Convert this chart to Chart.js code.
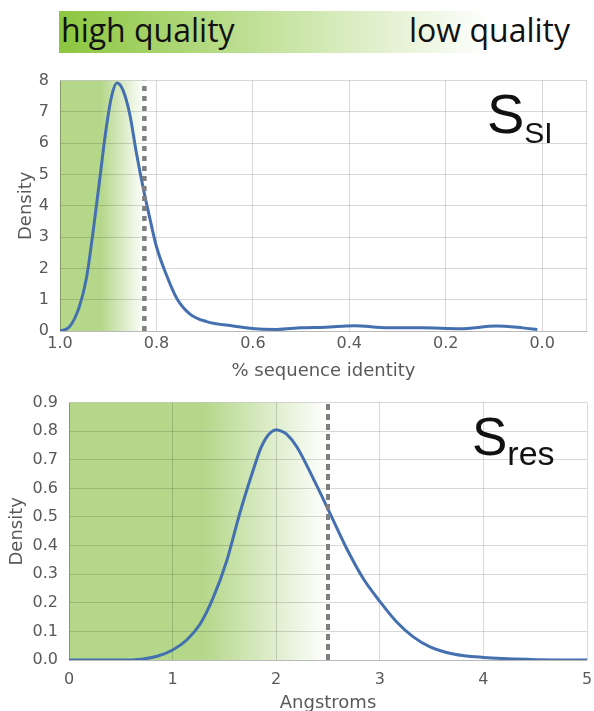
<!DOCTYPE html>
<html>
<head>
<meta charset="utf-8">
<script src="https://cdn.jsdelivr.net/npm/chart.js"></script>
<style>
  body { margin: 0; background: #fff; width: 594px; height: 711px; position: relative; overflow: hidden; }
  #banner { position: absolute; left: 59px; top: 11px; width: 431px; height: 42px;
            background: linear-gradient(to right, #8cc63f, #ffffff); }
  .q { position: absolute; top: 14px; font: 32px/32px "Open Sans"; color: #111; white-space: nowrap; }
  canvas { position: absolute; left: 0; }
</style>
</head>
<body>
<div id="banner"></div>
<span class="q" style="left:61px">high quality</span>
<span class="q" style="right:24px">low quality</span>
<canvas id="ssi" width="594" height="322" style="top:60px"></canvas>
<canvas id="res" width="594" height="329" style="top:382px"></canvas>
<script>
// S_SI density over % sequence identity
var ssiX = [1.0, 0.98, 0.96, 0.945, 0.932, 0.918, 0.904, 0.893, 0.882, 0.869, 0.855, 0.842, 0.826, 0.814, 0.8,
            0.779, 0.758, 0.731, 0.696, 0.641, 0.586, 0.55, 0.5, 0.45, 0.39, 0.32, 0.25, 0.17, 0.095, 0.04, 0.01];
var ssiY = [0, 0.14, 0.77, 1.7, 3.1, 4.8, 6.5, 7.5, 7.92, 7.68, 6.9, 5.73, 4.46, 3.62, 2.7,
            1.78, 1.05, 0.55, 0.3, 0.16, 0.06, 0.05, 0.1, 0.12, 0.17, 0.1, 0.1, 0.07, 0.16, 0.1, 0.05];
var ssiXTicks = [1.0, 0.8, 0.6, 0.4, 0.2, 0.0];
var ssiYTicks = [0, 1, 2, 3, 4, 5, 6, 7, 8];
var ssiCut = 0.825;
var ssiShade = [0.915, 0.825];

// S_res density over resolution in Angstroms
var resX = [0, 0.3, 0.5, 0.7, 0.85, 1.0, 1.136, 1.264, 1.393, 1.522, 1.65, 1.779, 1.85, 1.9, 1.95, 2.0, 2.05, 2.1,
            2.2, 2.358, 2.519, 2.68, 2.84, 3.0, 3.163, 3.323, 3.485, 3.71, 4.0, 4.45, 5.0];
var resY = [0, 0, 0, 0.003, 0.013, 0.035, 0.07, 0.125, 0.219, 0.346, 0.515, 0.665, 0.74, 0.775, 0.797, 0.805, 0.8, 0.79,
            0.745, 0.634, 0.513, 0.39, 0.285, 0.205, 0.133, 0.081, 0.046, 0.021, 0.009, 0.002, 0];
var resXTicks = [0, 1, 2, 3, 4, 5];
var resYTicks = [0, 0.1, 0.2, 0.3, 0.4, 0.5, 0.6, 0.7, 0.8, 0.9];
var resCut = 2.5;
var resShade = [1.3, 2.5];

var gridColor = 'rgba(0,0,0,0.15)';
var textColor = '#595959';
var lineColor = '#4470b0';

function pts(xs, ys) {
  return xs.map(function(x, i) { return {x: x, y: ys[i]}; });
}

// green quality band behind the grid
var shade = {
  id: 'shade',
  beforeDraw: function(chart, args, o) {
    var a = chart.chartArea, ctx = chart.ctx, sx = chart.scales.x;
    var x0 = sx.getPixelForValue(o.from), x1 = sx.getPixelForValue(o.to);
    var g = ctx.createLinearGradient(x0, 0, x1, 0);
    g.addColorStop(0, '#b5d78a');
    g.addColorStop(1, 'rgba(181,215,138,0)');
    ctx.save();
    ctx.fillStyle = g;
    ctx.fillRect(a.left, a.top, x1 - a.left, a.bottom - a.top);
    ctx.restore();
  }
};

// S with subscript, plus right frame edge
var tag = {
  id: 'tag',
  afterDraw: function(chart, args, o) {
    var ctx = chart.ctx, a = chart.chartArea;
    ctx.save();
    if (o.edge) {
      ctx.strokeStyle = gridColor;
      ctx.lineWidth = 1;
      ctx.beginPath();
      ctx.moveTo(a.right - 0.5, a.top);
      ctx.lineTo(a.right - 0.5, a.bottom);
      ctx.stroke();
    }
    ctx.fillStyle = '#111';
    ctx.textBaseline = 'alphabetic';
    ctx.font = o.size + 'px "Liberation Sans"';
    ctx.fillText('S', o.x, o.y);
    var w = ctx.measureText('S').width;
    ctx.font = o.subSize + 'px "Liberation Sans"';
    ctx.fillText(o.sub, o.x + w, o.y + o.subDy);
    ctx.restore();
  }
};

function axes(xt, yt, xTitle, xMin, xMax, yMax, rev, yw, xPad, yTitlePad, xTitleBottom, yFmt) {
  return {
    x: {
      type: 'linear', min: xMin, max: xMax, reverse: rev,
      afterBuildTicks: function(s) { s.ticks = xt.map(function(v) { return {value: v}; }); },
      afterFit: function(s) { s.height = 51; s.paddingLeft = 0; s.paddingRight = 0; },
      grid: {color: gridColor, drawTicks: false},
      border: {color: gridColor},
      ticks: {color: textColor, padding: xPad, font: {family: 'DejaVu Sans', size: 16},
              callback: function(v) { return rev ? v.toFixed(1) : String(v); }},
      title: {display: true, text: xTitle, color: textColor, padding: {top: 0, bottom: xTitleBottom},
              font: {family: 'DejaVu Sans', size: 18}}
    },
    y: {
      type: 'linear', min: 0, max: yMax,
      afterBuildTicks: function(s) { s.ticks = yt.map(function(v) { return {value: v}; }); },
      afterFit: function(s) { s.width = yw; },
      grid: {color: gridColor, drawTicks: false},
      border: {color: gridColor},
      ticks: {color: textColor, padding: 11, font: {family: 'DejaVu Sans', size: 16},
              callback: yFmt},
      title: {display: true, text: 'Density', color: textColor, padding: {top: yTitlePad, bottom: 0},
              font: {family: 'DejaVu Sans', size: 18}}
    }
  };
}

new Chart(document.getElementById('ssi'), {
  type: 'line',
  data: {
    datasets: [
      {data: [{x: ssiCut, y: 0}, {x: ssiCut, y: 8}], borderColor: '#7f7f7f', borderWidth: 4.5,
       borderDash: [5, 5], pointRadius: 0},
      {data: pts(ssiX, ssiY), borderColor: lineColor, borderWidth: 3, pointRadius: 0,
       cubicInterpolationMode: 'monotone'}
    ]
  },
  options: {
    responsive: false, animation: false,
    layout: {padding: {left: 0, right: 7, top: 18, bottom: 0}},
    scales: axes(ssiXTicks, ssiYTicks, '% sequence identity', -0.093, 1.0, 8, true, 60, 3, 16, 0,
                 function(v) { return String(v); }),
    plugins: {
      legend: {display: false}, tooltip: {enabled: false},
      shade: {from: ssiShade[0], to: ssiShade[1]},
      tag: {sub: 'SI', x: 487, y: 73, size: 56, subSize: 30, subDy: 10, edge: true}
    }
  },
  plugins: [shade, tag]
});

new Chart(document.getElementById('res'), {
  type: 'line',
  data: {
    datasets: [
      {data: [{x: resCut, y: 0}, {x: resCut, y: 0.9}], borderColor: '#7f7f7f', borderWidth: 4,
       borderDash: [6, 4], pointRadius: 0},
      {data: pts(resX, resY), borderColor: lineColor, borderWidth: 3, pointRadius: 0,
       cubicInterpolationMode: 'monotone'}
    ]
  },
  options: {
    responsive: false, animation: false,
    layout: {padding: {left: 0, right: 7, top: 18, bottom: 0}},
    scales: axes(resXTicks, resYTicks, 'Angstroms', 0, 5, 0.9, false, 69, 10, 7, -3,
                 function(v) { return v.toFixed(1); }),
    plugins: {
      legend: {display: false}, tooltip: {enabled: false},
      shade: {from: resShade[0], to: resShade[1]},
      tag: {sub: 'res', x: 472, y: 73, size: 53, subSize: 34, subDy: 10, edge: false}
    }
  },
  plugins: [shade, tag]
});
</script>
</body>
</html>
